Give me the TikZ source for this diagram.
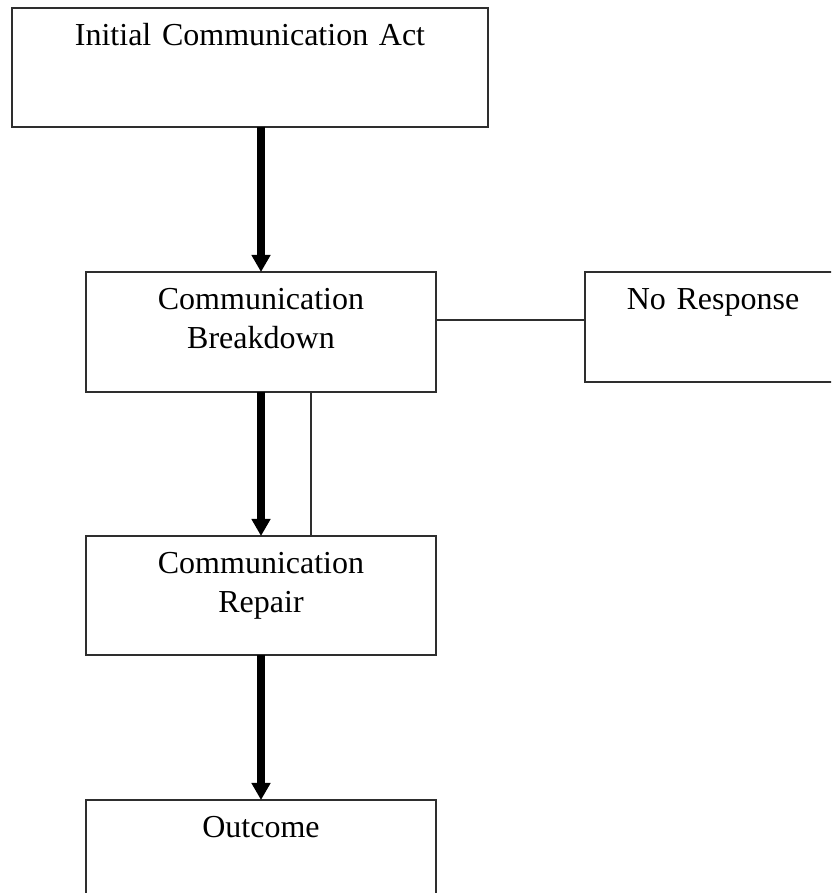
\documentclass[tikz,border=0pt]{standalone}
\usepackage{fontspec}
\setmainfont{Liberation Serif}
\usepackage{xcolor}
\usetikzlibrary{positioning,calc,arrows.meta}
\definecolor{ink}{HTML}{000000}
\definecolor{edge}{HTML}{2E2E2E}
\tikzset{
  stage/.style = {draw=edge, fill=white, line width=0.5pt, inner sep=0pt, outer sep=0pt,
                  anchor=north west, align=center, text height=14.2pt,
                  font=\fontsize{12}{14.6}\selectfont\color{ink}},
  flow/.style  = {-{Triangle[width=6.8pt,length=6.4pt]}, draw=ink, line width=3pt},
  hair/.style  = {draw=edge, line width=0.5pt},
}
\begin{document}
\begin{tikzpicture}[x=0.375pt,y=-0.375pt]
\path[use as bounding box, fill=white] (0,0) rectangle (831,893);
\clip (0,0) rectangle (831,893);

% ---------- the stages ---------------------------------------------------
\node[stage, text width=178.5pt,  text depth=30.4pt]  (init) at (12,8)   {Initial Communication Act};
\node[stage, text width=131.25pt, text depth=30.8pt]  (brk)  at (86,272) {Communication\\Breakdown};
\node[stage, text width=131.25pt, text depth=30.4pt]  (rep)  at (86,536) {Communication\\Repair};
\node[stage, text width=131.25pt, text depth=30.4pt]  (out)  at (86,800) {Outcome};
\node[stage, text width=96pt,     text depth=27.05pt] (nor)  at (585,272) {No Response};

% ---------- main flow ----------------------------------------------------
\draw[flow] (init.south -| brk.north) -- (brk.north);
\draw[flow] (brk.south) -- (rep.north);
\draw[flow] (rep.south) -- (out.north);

% ---------- side links ---------------------------------------------------
\draw[hair] ([xshift=18.75pt]brk.south) -- ([xshift=18.75pt]rep.north);
\draw[hair] ([yshift=4.5pt]brk.east) -- ([yshift=4.5pt]brk.east -| nor.west);

\end{tikzpicture}
\end{document}
